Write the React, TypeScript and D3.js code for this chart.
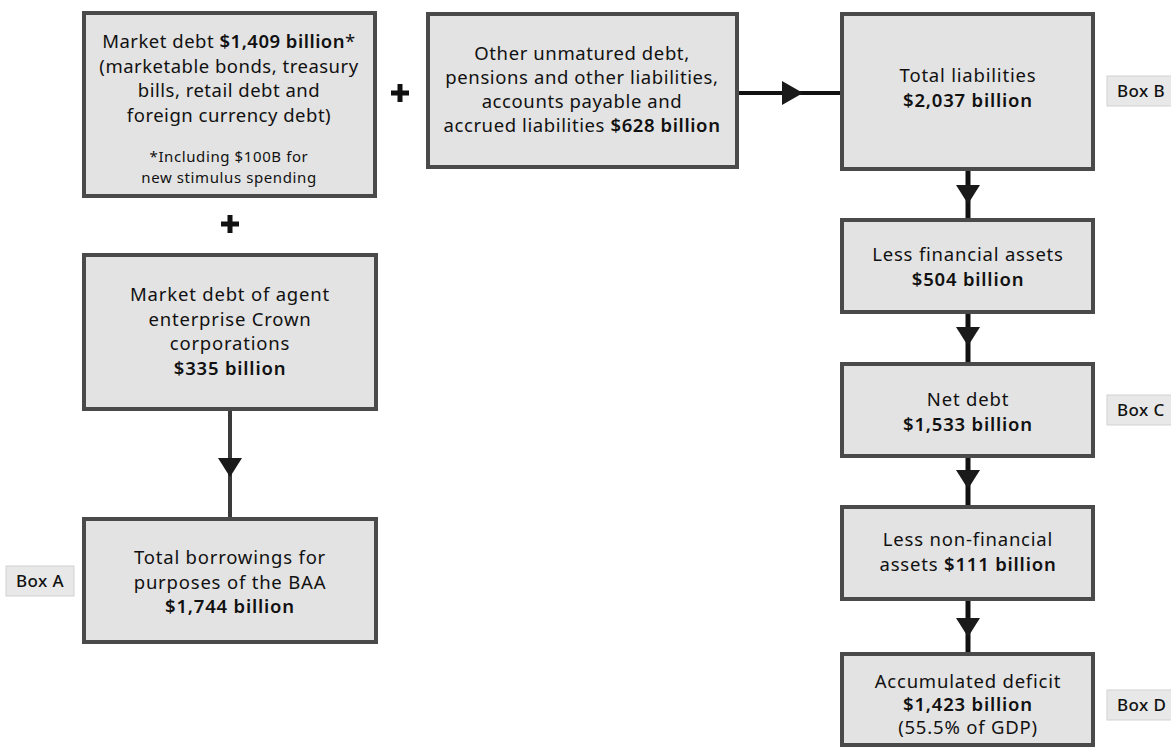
import React, { useRef, useEffect } from 'react'
import * as d3 from 'd3'

// amounts, in $ billions
const marketDebt = 1409
const stimulusIncluded = 100
const crownDebt = 335
const otherLiabilities = 628
const totalLiabilities = 2037
const financialAssets = 504
const netDebt = 1533
const nonFinancialAssets = 111
const accumulatedDeficit = 1423
const deficitShareOfGdp = 55.5
const totalBorrowings = 1744

const boxLabels = ['Box A', 'Box B', 'Box C', 'Box D']

const fmt = d3.format(',')
const bn = (v: number) => `$${fmt(v)} billion`

type Run = [string, boolean]
type Line = Run[]

const marketDebtLines: Line[] = [
  [['Market debt ', false], [bn(marketDebt), true], ['*', false]],
  [['(marketable bonds, treasury', false]],
  [['bills, retail debt and', false]],
  [['foreign currency debt)', false]],
]
const marketDebtNote: Line[] = [
  [[`*Including $${stimulusIncluded}B for`, false]],
  [['new stimulus spending', false]],
]
const otherLines: Line[] = [
  [['Other unmatured debt,', false]],
  [['pensions and other liabilities,', false]],
  [['accounts payable and', false]],
  [['accrued liabilities ', false], [bn(otherLiabilities), true]],
]
const totalLiabLines: Line[] = [[['Total liabilities', false]], [[bn(totalLiabilities), true]]]
const finAssetLines: Line[] = [[['Less financial assets', false]], [[bn(financialAssets), true]]]
const netDebtLines: Line[] = [[['Net debt', false]], [[bn(netDebt), true]]]
const nonFinLines: Line[] = [[['Less non-financial', false]], [['assets ', false], [bn(nonFinancialAssets), true]]]
const deficitLines: Line[] = [
  [['Accumulated deficit', false]],
  [[bn(accumulatedDeficit), true]],
  [[`(${deficitShareOfGdp}% of GDP)`, false]],
]
const crownLines: Line[] = [
  [['Market debt of agent', false]],
  [['enterprise Crown', false]],
  [['corporations', false]],
  [[bn(crownDebt), true]],
]
const borrowLines: Line[] = [
  [['Total borrowings for', false]],
  [['purposes of the BAA', false]],
  [[bn(totalBorrowings), true]],
]

export default function App() {
  const svgRef = useRef<SVGSVGElement>(null)

  useEffect(() => {
    if (!svgRef.current) return
    const svg = d3.select(svgRef.current)
    svg.selectAll('*').remove()

    const font = '"Noto Sans", sans-serif'
    const fill = '#e3e3e3'
    const stroke = '#4a4a4a'

    const box = (x0: number, y0: number, x1: number, y1: number) => {
      svg.append('rect')
        .attr('x', x0 + 2).attr('y', y0 + 2)
        .attr('width', x1 - x0 - 4).attr('height', y1 - y0 - 4)
        .attr('fill', fill).attr('stroke', stroke).attr('stroke-width', 4)
    }

    const text = (lines: Line[], cx: number, y0: number, step: number, size: number, ls = 0.8) => {
      lines.forEach((line, i) => {
        const t = svg.append('text')
          .attr('x', cx).attr('y', y0 + i * step)
          .attr('text-anchor', 'middle')
          .attr('font-family', font).attr('font-size', size)
          .attr('letter-spacing', ls)
          .attr('fill', '#111')
        line.forEach(([s, b]) => {
          t.append('tspan').attr('font-weight', b ? 600 : 400).text(s)
        })
      })
    }

    const vArrow = (x: number, y0: number, y1: number, tipY: number, color: string, w: number) => {
      svg.append('line').attr('x1', x).attr('x2', x).attr('y1', y0).attr('y2', y1)
        .attr('stroke', color).attr('stroke-width', w)
      svg.append('path')
        .attr('d', d3.line()([[x - 12, tipY - 19], [x + 12, tipY - 19], [x, tipY]]) + 'Z')
        .attr('fill', '#1a1a1a')
    }

    const plus = (cx: number, cy: number) => {
      svg.append('rect').attr('x', cx - 9).attr('y', cy - 2.5).attr('width', 18).attr('height', 5).attr('fill', '#111')
      svg.append('rect').attr('x', cx - 2.5).attr('y', cy - 9).attr('width', 5).attr('height', 18).attr('fill', '#111')
    }

    const tag = (label: string, x0: number, x1: number, cy: number) => {
      svg.append('rect').attr('x', x0).attr('y', cy - 15).attr('width', x1 - x0).attr('height', 30)
        .attr('fill', '#e8e8e8').attr('stroke', '#d2d2d2').attr('stroke-width', 1)
      svg.append('text').attr('x', x0 + 10).attr('y', cy + 6)
        .attr('font-family', font).attr('font-size', 17).attr('letter-spacing', 0.4)
        .attr('font-weight', 500).attr('fill', '#111').text(label)
    }

    // connectors
    vArrow(230, 410, 517, 477, '#3a3a3a', 4)
    svg.append('line').attr('x1', 738).attr('x2', 840).attr('y1', 93).attr('y2', 93)
      .attr('stroke', '#111').attr('stroke-width', 4)
    svg.append('path')
      .attr('d', d3.line()([[782, 81], [782, 105], [803, 93]]) + 'Z')
      .attr('fill', '#1a1a1a')
    vArrow(968, 170, 218, 204, '#111', 5)
    vArrow(968, 313, 362, 346, '#111', 5)
    vArrow(968, 457, 505, 489, '#111', 5)
    vArrow(968, 600, 652, 637, '#111', 5)

    // left column
    box(82, 11, 377, 198)
    text(marketDebtLines, 229, 48, 24.5, 18.5, 0.5)
    text(marketDebtNote, 229, 162, 21, 15, 0.6)
    plus(230, 224)
    box(82, 253, 378, 411)
    text(crownLines, 230, 301, 24.5, 18.5)
    box(82, 517, 378, 644)
    text(borrowLines, 230, 564, 24.5, 18.5)

    // middle
    plus(400, 93)
    box(426, 12, 739, 169)
    text(otherLines, 582, 60, 24, 18.5, 0.6)

    // right column
    box(840, 12, 1095, 171)
    text(totalLiabLines, 968, 82, 24.5, 18.5)
    box(840, 218, 1095, 314)
    text(finAssetLines, 968, 261, 24.5, 18.5)
    box(840, 362, 1095, 458)
    text(netDebtLines, 968, 406, 24.5, 18.5)
    box(840, 505, 1095, 601)
    text(nonFinLines, 968, 546, 24.5, 18.5)
    box(840, 652, 1095, 747)
    text(deficitLines, 968, 688, 23, 18.5)

    // side tags
    tag(boxLabels[0], 6, 74, 581)
    tag(boxLabels[1], 1107, 1175, 91)
    tag(boxLabels[2], 1107, 1175, 410)
    tag(boxLabels[3], 1107, 1175, 705)
  }, [])

  return (
    <svg
      ref={svgRef}
      width={1171}
      height={752}
      style={{ position: 'absolute', left: 0, top: 0, background: '#fff' }}
    />
  )
}
